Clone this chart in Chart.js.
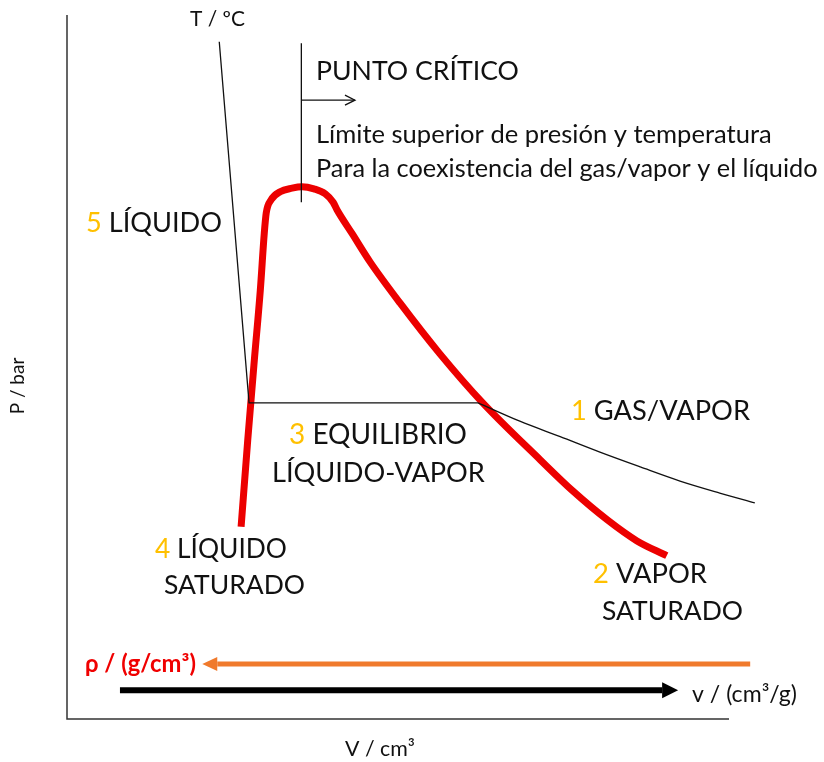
<!DOCTYPE html>
<html>
<head>
<meta charset="utf-8">
<script src="https://cdn.jsdelivr.net/npm/chart.js@4.4.1/dist/chart.umd.min.js"></script>
<style>
  body { margin: 0; background: #fff; }
</style>
</head>
<body>
<canvas id="diagram" width="824" height="762"></canvas>
<script>
// P-V diagram, both axes in arbitrary units 0..100
const domeV = [26.3, 27.3, 28.3, 29.2, 29.8, 30.1, 30.8, 32.2, 34.0, 35.5, 37.3, 39.0, 40.2, 40.8, 43.1, 45.8, 50.3, 56.3, 62.8, 71.5, 76.4, 81.6, 86.1, 90.6];
const domeP = [27.3, 39.6, 51.0, 60.9, 69.0, 71.9, 73.7, 74.9, 75.4, 75.6, 75.3, 74.6, 73.4, 72.3, 68.9, 64.9, 59.1, 51.9, 44.9, 36.8, 32.4, 28.3, 25.3, 23.2];

// isotherm: liquid branch + plateau, then gas branch
const isoLiqV = [23.0, 27.5, 62.1];
const isoLiqP = [96.2, 44.9, 44.9];
const isoGasV = [62.1, 68.4, 74.5, 80.5, 86.6, 92.6, 98.6, 103.9];
const isoGasP = [44.9, 42.3, 40.1, 37.9, 35.8, 33.8, 32.1, 30.7];

const criticalV = [35.4, 35.4];
const criticalP = [96.0, 73.4];
const critArrowV = [35.4, 43.5];
const critArrowP = [87.9, 87.9];

const densityV = [103.2, 22.7];
const densityP = [7.8, 7.8];
const specVolV = [8.0, 89.9];
const specVolP = [4.1, 4.1];

const RED = 'rgb(236,0,0)';
const GOLD = '#FFC000';
const ORANGE = '#F07A2C';
const INK = '#111';

const labels = [
  { parts: [['T / ºC', INK]], x: 190, y: 18, w: 55 },
  { parts: [['PUNTO CRÍTICO', INK]], x: 316, y: 70, w: 203 },
  { parts: [['Límite superior de presión y temperatura', INK]], x: 316, y: 134, w: 456 },
  { parts: [['Para la coexistencia del gas/vapor y el líquido', INK]], x: 316, y: 168, w: 502 },
  { parts: [['5 ', GOLD], ['LÍQUIDO', INK]], x: 86, y: 222, w: 136 },
  { parts: [['3 ', GOLD], ['EQUILIBRIO', INK]], x: 289, y: 434, w: 178 },
  { parts: [['LÍQUIDO-VAPOR', INK]], x: 272, y: 472, w: 213 },
  { parts: [['1 ', GOLD], ['GAS/VAPOR', INK]], x: 571, y: 410, w: 179 },
  { parts: [['4 ', GOLD], ['LÍQUIDO', INK]], x: 155, y: 549, w: 132 },
  { parts: [['SATURADO', INK]], x: 164, y: 584, w: 141 },
  { parts: [['2 ', GOLD], ['VAPOR', INK]], x: 593, y: 573, w: 114 },
  { parts: [['SATURADO', INK]], x: 602, y: 610, w: 141 },
  { parts: [['v / (cm³/g)', INK]], x: 692, y: 694, w: 105 },
  { parts: [['ρ / (g/cm³)', 'rgb(240,0,0)']], x: 85, y: 663, w: 111, bold: true },
  { parts: [['V / cm³', INK]], x: 345, y: 748, w: 70 }
];

function pts(xs, ys) {
  return xs.map((x, i) => ({ x: x, y: ys[i] }));
}

function line(data, color, width, extra) {
  return Object.assign({
    data: data,
    showLine: true,
    borderColor: color,
    backgroundColor: color,
    borderWidth: width,
    pointRadius: 0,
    fill: false,
    clip: false
  }, extra || {});
}

function drawText(ctx, lab) {
  const weight = lab.bold ? 'bold ' : '';
  ctx.font = weight + '100px Lato';
  const full = lab.parts.map(p => p[0]).join('');
  const size = 100 * lab.w / ctx.measureText(full).width;
  ctx.font = weight + size + 'px Lato';
  ctx.textBaseline = 'alphabetic';
  let x = lab.x;
  const base = lab.y + size * 0.36;
  lab.parts.forEach(p => {
    ctx.fillStyle = p[1];
    ctx.fillText(p[0], x, base);
    x += ctx.measureText(p[0]).width;
  });
}

const decor = {
  id: 'decor',
  afterDatasetsDraw(chart) {
    const ctx = chart.ctx;
    const a = chart.chartArea;
    ctx.save();
    // axis lines
    ctx.strokeStyle = '#333';
    ctx.lineWidth = 1.5;
    ctx.beginPath();
    ctx.moveTo(a.left, a.top);
    ctx.lineTo(a.left, a.bottom);
    ctx.lineTo(a.right, a.bottom);
    ctx.stroke();

    // arrow heads at the end of flagged datasets
    chart.data.datasets.forEach((ds, i) => {
      if (!ds.arrow) return;
      const meta = chart.getDatasetMeta(i).data;
      const p0 = meta[meta.length - 2], p1 = meta[meta.length - 1];
      const dx = p1.x - p0.x, dy = p1.y - p0.y;
      const len = Math.hypot(dx, dy);
      const ux = dx / len, uy = dy / len;
      const h = ds.arrow;
      ctx.fillStyle = ds.borderColor;
      ctx.strokeStyle = ds.borderColor;
      if (h.type === 'filled') {
        const tx = p1.x + ux * h.len, ty = p1.y + uy * h.len;
        ctx.beginPath();
        ctx.moveTo(tx, ty);
        ctx.lineTo(p1.x - uy * h.half, p1.y + ux * h.half);
        ctx.lineTo(p1.x + uy * h.half, p1.y - ux * h.half);
        ctx.closePath();
        ctx.fill();
      } else {
        ctx.lineWidth = ds.borderWidth;
        ctx.beginPath();
        ctx.moveTo(p1.x - ux * h.len - uy * h.half, p1.y - uy * h.len + ux * h.half);
        ctx.lineTo(p1.x, p1.y);
        ctx.lineTo(p1.x - ux * h.len + uy * h.half, p1.y - uy * h.len - ux * h.half);
        ctx.stroke();
      }
    });

    labels.forEach(l => drawText(ctx, l));

    // y axis title, rotated
    ctx.translate(18, 386);
    ctx.rotate(-Math.PI / 2);
    ctx.font = '19px Lato';
    ctx.fillStyle = INK;
    ctx.textAlign = 'center';
    ctx.textBaseline = 'middle';
    ctx.fillText('P / bar', 0, 0);
    ctx.restore();
  }
};

new Chart(document.getElementById('diagram'), {
  type: 'scatter',
  data: {
    datasets: [
      line(pts(isoLiqV, isoLiqP), INK, 1.3, { order: 0 }),
      line(pts(isoGasV, isoGasP), INK, 1.3, { order: 0, cubicInterpolationMode: 'monotone' }),
      line(pts(criticalV, criticalP), INK, 1.3, { order: 0 }),
      line(pts(critArrowV, critArrowP), INK, 1.3, { order: 0, arrow: { type: 'open', len: 10, half: 5 } }),
      line(pts(domeV, domeP), RED, 7, { order: 1, cubicInterpolationMode: 'monotone' }),
      line(pts(densityV, densityP), ORANGE, 5, { order: 1, arrow: { type: 'filled', len: 15, half: 7 } }),
      line(pts(specVolV, specVolP), '#000', 6, { order: 1, arrow: { type: 'filled', len: 16, half: 8 } })
    ]
  },
  options: {
    responsive: false,
    animation: false,
    layout: { padding: { left: 67, top: 15, right: 95, bottom: 43 } },
    plugins: { legend: { display: false }, tooltip: { enabled: false } },
    scales: {
      x: { type: 'linear', min: 0, max: 100, display: false },
      y: { type: 'linear', min: 0, max: 100, display: false }
    }
  },
  plugins: [decor]
});
</script>
</body>
</html>
